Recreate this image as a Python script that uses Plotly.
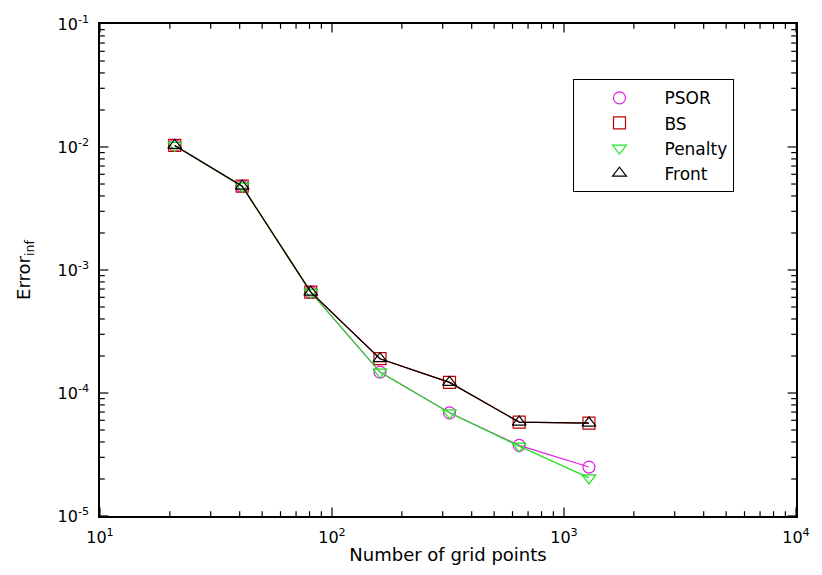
import math
import plotly.graph_objects as go

grid_points = [21, 41, 81, 161, 321, 641, 1281]
psor = [1.03e-2, 4.8e-3, 6.6e-4, 1.48e-4, 6.9e-5, 3.75e-5, 2.5e-5]
bs = [1.03e-2, 4.8e-3, 6.6e-4, 1.9e-4, 1.22e-4, 5.8e-5, 5.7e-5]
penalty = [1.03e-2, 4.8e-3, 6.6e-4, 1.48e-4, 6.9e-5, 3.7e-5, 2.04e-5]
front = [1.03e-2, 4.8e-3, 6.6e-4, 1.9e-4, 1.22e-4, 5.8e-5, 5.7e-5]

x_decades = [1, 2, 3, 4]
y_decades = [-5, -4, -3, -2, -1]


def log_ticks(decades):
    vals, texts, major = [], [], []
    for i, e in enumerate(decades):
        vals.append(10.0 ** e)
        texts.append("10<sup>%d</sup>" % e)
        major.append(True)
        if i < len(decades) - 1:
            for m in range(2, 10):
                vals.append(m * 10.0 ** e)
                texts.append("")
                major.append(False)
    return vals, texts, major


x_tickvals, x_ticktext, x_major = log_ticks(x_decades)
y_tickvals, y_ticktext, y_major = log_ticks(y_decades)

W, H = 822, 575
M = dict(l=100, r=20, t=24, b=59)
px_per_dec_x = (W - M["l"] - M["r"]) / (x_decades[-1] - x_decades[0])
px_per_dec_y = (H - M["t"] - M["b"]) / (y_decades[-1] - y_decades[0])

series = [
    ("PSOR", psor, "#e020e0", "circle-open"),
    ("BS", bs, "#c00000", "square-open"),
    ("Penalty", penalty, "#20e020", "triangle-down-open"),
    ("Front", front, "#000000", "triangle-up-open"),
]

fig = go.Figure()

# inside tick marks on all four sides (drawn as short line markers on the axis frame)
for is_major_set, L in ((True, 7), (False, 4)):
    xs = [v for v, m in zip(x_tickvals, x_major) if m == is_major_set]
    ys = [v for v, m in zip(y_tickvals, y_major) if m == is_major_set]
    dy = (L / 2) / px_per_dec_y
    dx = (L / 2) / px_per_dec_x
    y_bot = 10 ** (y_decades[0] + dy)
    y_top = 10 ** (y_decades[-1] - dy)
    x_lft = 10 ** (x_decades[0] + dx)
    x_rgt = 10 ** (x_decades[-1] - dx)
    tick_marker = lambda sym: dict(symbol=sym, size=L, color="black", line=dict(color="black", width=1.2))
    fig.add_trace(go.Scatter(x=xs + xs, y=[y_bot] * len(xs) + [y_top] * len(xs), mode="markers",
                             marker=tick_marker("line-ns"), showlegend=False, hoverinfo="skip", cliponaxis=False))
    fig.add_trace(go.Scatter(x=[x_lft] * len(ys) + [x_rgt] * len(ys), y=ys + ys, mode="markers",
                             marker=tick_marker("line-ew"), showlegend=False, hoverinfo="skip", cliponaxis=False))

for name, vals, color, sym in series:
    fig.add_trace(go.Scatter(
        x=grid_points, y=vals, name=name, mode="lines", showlegend=False,
        legendgroup=name, line=dict(color=color, width=1.2), hoverinfo="skip",
    ))
    fig.add_trace(go.Scatter(
        x=grid_points, y=vals, name=name, mode="markers", legendgroup=name,
        marker=dict(symbol=sym, size=12, color=color, line=dict(color=color, width=1.2)),
    ))

font = "DejaVu Sans, Arial, sans-serif"
axis_common = dict(
    type="log", showgrid=False, zeroline=False,
    showline=True, linecolor="black", linewidth=1.5, mirror=True,
    ticks="", tickmode="array",
    tickfont=dict(family=font, size=16, color="black"),
)

fig.update_xaxes(
    range=[x_decades[0], x_decades[-1]], tickvals=x_tickvals, ticktext=x_ticktext,
    ticklabelstandoff=6,
    title=dict(text="Number of grid points", font=dict(family=font, size=18, color="black"), standoff=2),
    **axis_common)
fig.update_yaxes(
    range=[y_decades[0], y_decades[-1]], tickvals=y_tickvals, ticktext=y_ticktext,
    ticklabelstandoff=6,
    title=dict(text="Error<sub>inf</sub>", font=dict(family=font, size=18, color="black"), standoff=22),
    **axis_common)

fig.update_layout(
    width=W, height=H,
    margin=M,
    paper_bgcolor="white", plot_bgcolor="white",
    font=dict(family=font, color="black"),
    legend=dict(
        x=0.68, y=0.888, xanchor="left", yanchor="top",
        bgcolor="white", bordercolor="black", borderwidth=1.2,
        font=dict(family=font, size=17, color="black"),
        itemwidth=80, tracegroupgap=0,
    ),
)

fig.write_html("out.html")
